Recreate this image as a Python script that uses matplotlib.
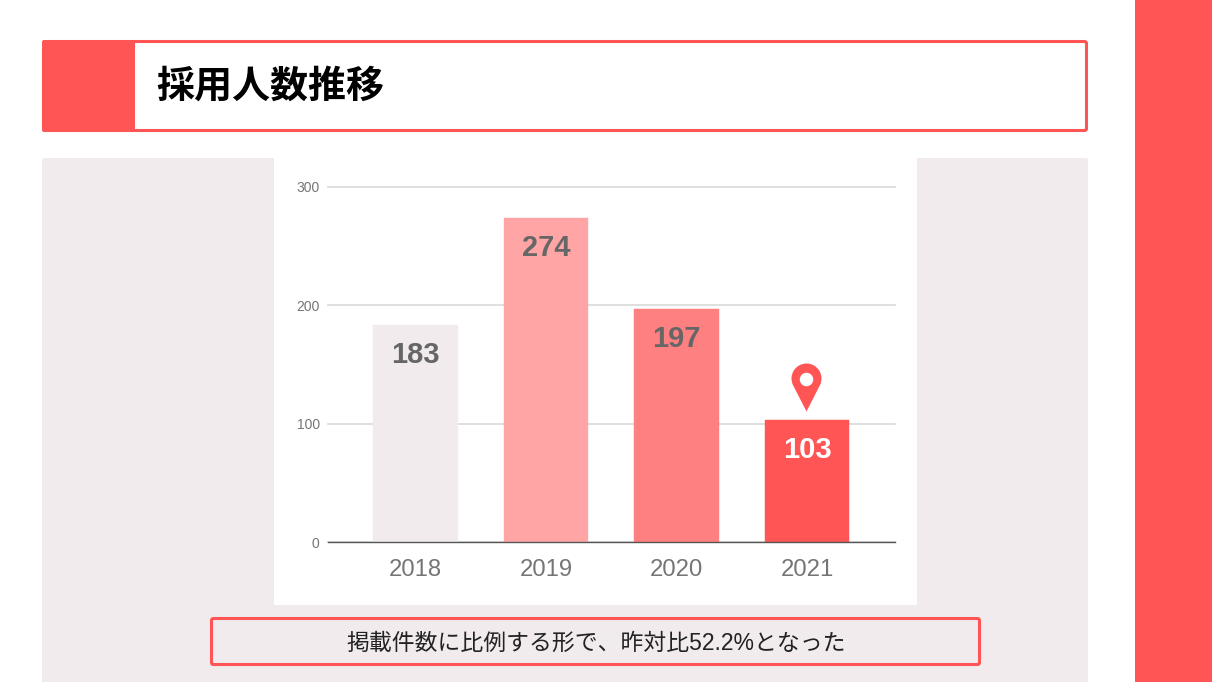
import matplotlib
matplotlib.use('Agg')
import matplotlib.pyplot as plt
import numpy as np
from matplotlib.patches import FancyBboxPatch, Rectangle
from matplotlib.path import Path

plt.rcParams['font.family'] = ['Noto Sans CJK JP', 'DejaVu Sans']

years = ['2018', '2019', '2020', '2021']
counts = [183, 274, 197, 103]
bar_colors = ['#F1EBEE', '#FFA5A5', '#FF8080', '#FF5555']
label_colors = ['#666666', '#666666', '#666666', '#FFFFFF']
y_ticks = [0, 100, 200, 300]
title_text = '採用人数推移'
caption_text = '掲載件数に比例する形で、昨対比52.2%となった'

RED = '#FF5555'
PANEL = '#F1EBEE'
W, H = 1212, 682

fig = plt.figure(figsize=(W / 100, H / 100), dpi=100, facecolor='white')

# slide background, in pixel coordinates of the reference
bg = fig.add_axes([0, 0, 1, 1])
bg.set_xlim(0, W)
bg.set_ylim(H, 0)
bg.axis('off')


def box(x0, y0, x1, y1, face, edge='none', lw=0, z=1):
    bg.add_patch(FancyBboxPatch((x0, y0), x1 - x0, y1 - y0,
                                boxstyle='round,pad=0,rounding_size=2',
                                facecolor=face, edgecolor=edge, linewidth=lw, zorder=z))


bg.add_patch(Rectangle((1135, 0), W - 1135, H, facecolor=RED, edgecolor='none'))
box(42, 158, 1088, 700, PANEL)
bg.add_patch(Rectangle((274, 158), 643, 447, facecolor='white', edgecolor='none', zorder=2))

# title bar
box(43.5, 41.5, 1086.5, 130.5, 'white', RED, 2.2, z=2)
box(42, 40, 135, 132, RED, z=3)
bg.text(156, 86, title_text, fontsize=27.4, fontweight='bold', color='black',
        va='center', ha='left', zorder=4)

# caption box
box(211.5, 618.5, 979.5, 664.5, PANEL, RED, 2.2, z=2)
bg.text(596, 643.5, caption_text, fontsize=16.45, color='#222222',
        family=['Liberation Sans', 'Noto Sans CJK JP'],
        va='center', ha='center', zorder=4)

# chart
left, right, top, bottom = 328, 895, 187, 542
ax = fig.add_axes([left / W, 1 - bottom / H, (right - left) / W, (bottom - top) / H])
ax.patch.set_alpha(0)
x = np.arange(len(years))
ax.set_xlim(-0.67, 3.674)
ax.set_ylim(0, 300)

ax.yaxis.grid(True, color='#D9D9D9', linewidth=1.2, zorder=0, clip_on=False)
ax.set_axisbelow(True)
ax.bar(x, counts, width=0.65, color=bar_colors, edgecolor=bar_colors, linewidth=0.3, zorder=2)

for i, v in enumerate(counts):
    ax.annotate(str(v), (x[i], v), xytext=(0, -30 * 0.72), textcoords='offset points',
                ha='center', va='center', fontsize=21, fontweight='bold',
                family='Liberation Sans', color=label_colors[i], zorder=3)

for s in ['top', 'left', 'right']:
    ax.spines[s].set_visible(False)
ax.spines['bottom'].set_color('#555555')
ax.spines['bottom'].set_linewidth(1.0)
ax.spines['bottom'].set_zorder(4)

ax.set_xticks(x)
ax.set_xticklabels(years, fontsize=17.2, color='#757575', family='Liberation Sans')
ax.set_yticks(y_ticks)
ax.set_yticklabels([str(t) for t in y_ticks], fontsize=10, color='#757575', family='Liberation Sans')
ax.tick_params(axis='both', length=0)
ax.tick_params(axis='x', pad=12)
ax.tick_params(axis='y', pad=6)

# location pin above the last bar
r = 15
arc = Path.arc(-27, 207)
head = arc.vertices * r + [0, 9]
pin = Path(np.vstack([[[0, -24]], head, [[0, -24]]]),
           [Path.MOVETO] + [Path.LINETO if c == Path.MOVETO else c for c in arc.codes] + [Path.LINETO])
pin_y = counts[3] + 27.6
ax.plot(x[3] - 0.01, pin_y, marker=pin, markersize=48 * 0.72, color=RED,
        markeredgecolor='none', zorder=5, clip_on=False)
ax.plot(x[3] - 0.01, pin_y + 7.2, marker='o', markersize=13.5 * 0.72, color='white',
        markeredgecolor='none', zorder=6, clip_on=False)

fig.savefig('out.png', dpi=100, facecolor='white')
